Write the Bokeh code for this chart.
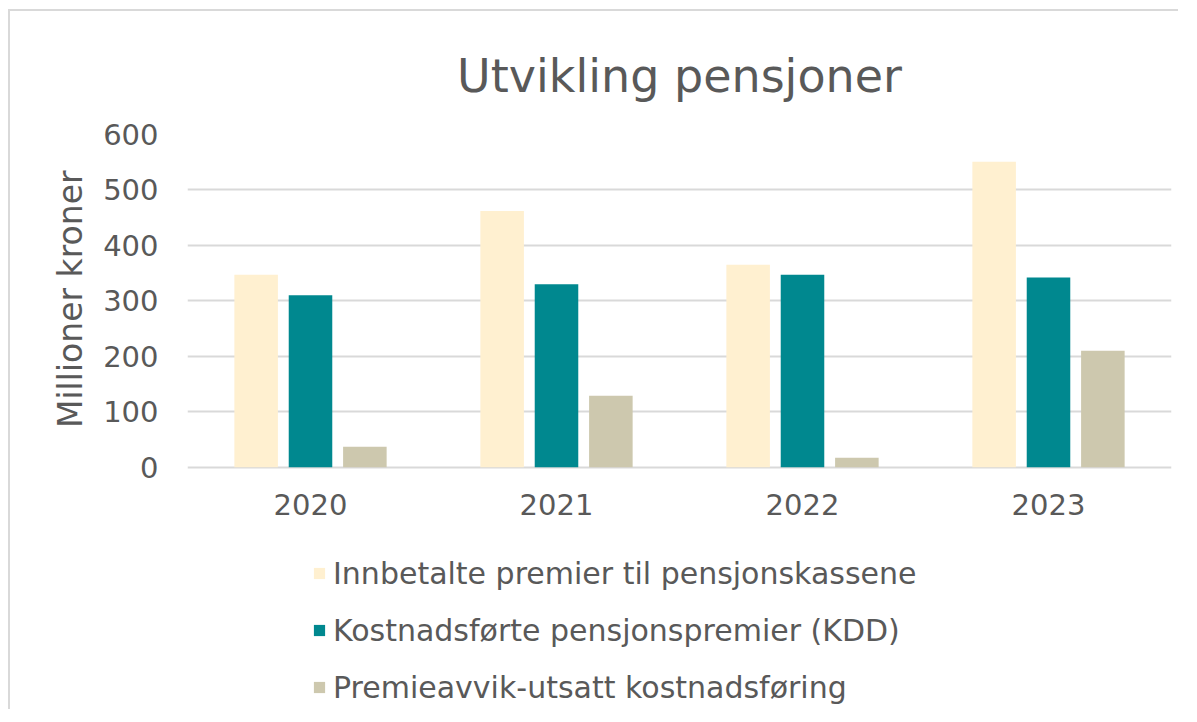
from bokeh.plotting import figure
from bokeh.models import ColumnDataSource, FactorRange, Range1d, Legend, LegendItem, FixedTicker, Title
from bokeh.core.properties import value
from bokeh.transform import dodge
from bokeh.embed import file_html
from bokeh.resources import INLINE

years = ["2020", "2021", "2022", "2023"]
innbetalte = [347, 462, 365, 551]
kostnadsforte = [310, 330, 347, 342]
premieavvik = [37, 129, 17, 210]
series_names = [
    "Innbetalte premier til pensjonskassene",
    "Kostnadsførte pensjonspremier (KDD)",
    "Premieavvik-utsatt kostnadsføring",
]
colors = ["#FFF0D0", "#00888F", "#CDC8AE"]
y_ticks = [0, 100, 200, 300, 400, 500, 600]
y_title = "Millioner kroner"
chart_title = "Utvikling pensjoner"

source = ColumnDataSource(data=dict(years=years, a=innbetalte, b=kostnadsforte, c=premieavvik,
                                    base=[0] * len(years)))

FONT = "DejaVu Sans"
TXT = "#595959"

# frame extends below the value axis so that the legend can sit under the bars
H = 700
TOP = 123
ZERO_PX = 455.7
px_per_unit = (ZERO_PX - TOP) / 600.0
y_bottom = -(H - ZERO_PX) / px_per_unit

p = figure(
    x_range=FactorRange(*years),
    y_range=Range1d(y_bottom, 600),
    width=1170, height=H,
    output_backend="svg", toolbar_location=None,
    x_axis_location=None,
    min_border_left=177, min_border_right=9, min_border_top=TOP, min_border_bottom=0,
    title=chart_title,
)
p.styles = {"border-left": "2px solid #d9d9d9", "border-top": "2px solid #d9d9d9",
            "margin-left": "8px", "margin-top": "9px"}

p.title.align = "center"
p.title.text_font = FONT
p.title.text_font_size = "46px"
p.title.text_font_style = "normal"
p.title.text_color = TXT
p.title.standoff = 64

w = 0.177
r1 = p.vbar(x=dodge("years", -0.221, range=p.x_range), top="a", width=w, source=source,
            fill_color=colors[0], line_color=None)
r2 = p.vbar(x=dodge("years", 0.0, range=p.x_range), top="b", width=w, source=source,
            fill_color=colors[1], line_color=None)
r3 = p.vbar(x=dodge("years", 0.221, range=p.x_range), top="c", width=w, source=source,
            fill_color=colors[2], line_color=None)

# category labels under the baseline
p.text(x="years", y="base", text="years", source=source,
       text_font=value(FONT), text_font_size=value("29px"), text_color=TXT,
       text_align="center", text_baseline="top", y_offset=27)

p.outline_line_color = None
p.xgrid.grid_line_color = None
p.ygrid.grid_line_color = "#d9d9d9"
p.ygrid.grid_line_width = 2
p.yaxis.ticker = FixedTicker(ticks=y_ticks)
p.yaxis.bounds = (0, 600)

ax = p.yaxis[0]
ax.axis_line_color = None
ax.major_tick_line_color = None
ax.minor_tick_line_color = None
ax.major_label_text_font = FONT
ax.major_label_text_font_size = "29px"
ax.major_label_text_color = TXT
ax.major_label_standoff = 23

ylab = Title(text=y_title, align="right", offset=36, vertical_align="bottom", standoff=21,
             text_font=FONT, text_font_size="33px", text_font_style="normal", text_color=TXT)
p.add_layout(ylab, "left")

legend = Legend(
    items=[LegendItem(label=series_names[0], renderers=[r1]),
           LegendItem(label=series_names[1], renderers=[r2]),
           LegendItem(label=series_names[2], renderers=[r3])],
    location=(125, 6),
    orientation="vertical",
)
legend.label_text_font = FONT
legend.label_text_font_size = "30px"
legend.label_text_color = TXT
legend.glyph_width = 14
legend.glyph_height = 14
legend.label_height = 36
legend.spacing = 21
legend.label_standoff = 7
legend.padding = 0
legend.margin = 0
legend.border_line_alpha = 0
legend.background_fill_alpha = 0
p.add_layout(legend, "center")

open("out.html", "w").write(file_html(p, INLINE))
